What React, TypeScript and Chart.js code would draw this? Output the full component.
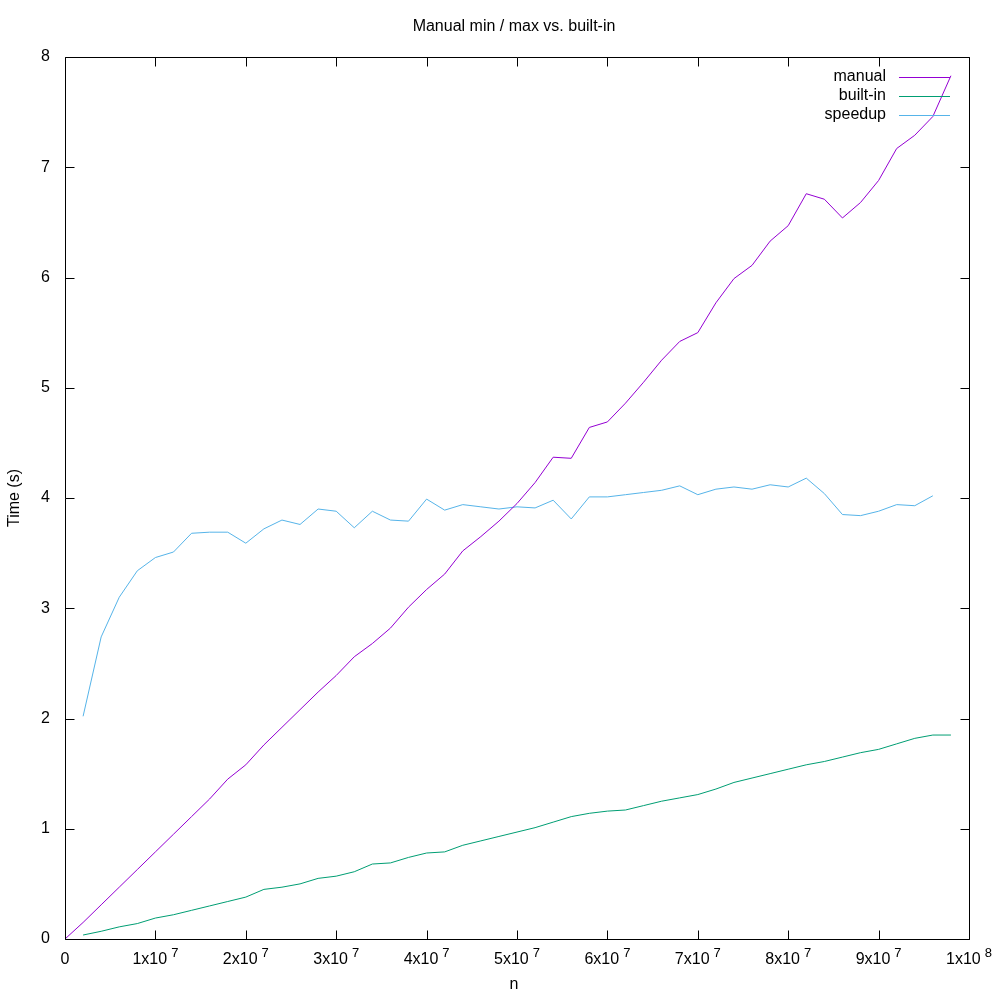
import React, { useEffect, useRef } from "react";
import { Chart, registerables } from "chart.js";

Chart.register(...registerables);

// ---- data ----
const TITLE = "Manual min / max vs. built-in";
const X_LABEL = "n";
const Y_LABEL = "Time (s)";

const N_VALUES = [
  0, 2e6, 4e6, 6e6, 8e6, 10e6, 12e6, 14e6, 16e6, 18e6,
  20e6, 22e6, 24e6, 26e6, 28e6, 30e6, 32e6, 34e6, 36e6, 38e6,
  40e6, 42e6, 44e6, 46e6, 48e6, 50e6, 52e6, 54e6, 56e6, 58e6,
  60e6, 62e6, 64e6, 66e6, 68e6, 70e6, 72e6, 74e6, 76e6, 78e6,
  80e6, 82e6, 84e6, 86e6, 88e6, 90e6, 92e6, 94e6, 96e6, 98e6,
];

// manual: n = 0 .. 98e6
const MANUAL = [
  0, 0.15, 0.31, 0.47, 0.63, 0.79, 0.95, 1.11, 1.27, 1.45,
  1.58, 1.76, 1.92, 2.08, 2.24, 2.39, 2.56, 2.68, 2.82, 3.01,
  3.17, 3.31, 3.52, 3.65, 3.79, 3.95, 4.14, 4.37, 4.36, 4.64,
  4.69, 4.86, 5.05, 5.25, 5.42, 5.5, 5.77, 5.99, 6.11, 6.33,
  6.47, 6.76, 6.71, 6.54, 6.68, 6.88, 7.17, 7.29, 7.46, 7.83,
];

// built-in: n = 2e6 .. 98e6
const BUILTIN = [
  0.036, 0.07, 0.11, 0.14, 0.19, 0.22, 0.26, 0.3, 0.34,
  0.38, 0.45, 0.47, 0.5, 0.55, 0.57, 0.61, 0.68, 0.69, 0.74,
  0.78, 0.79, 0.85, 0.89, 0.93, 0.97, 1.01, 1.06, 1.11, 1.14,
  1.16, 1.17, 1.21, 1.25, 1.28, 1.31, 1.36, 1.42, 1.46, 1.5,
  1.54, 1.58, 1.61, 1.65, 1.69, 1.72, 1.77, 1.82, 1.85, 1.85,
];

// speedup: n = 2e6 .. 96e6
const SPEEDUP = [
  2.02, 2.74, 3.1, 3.34, 3.46, 3.51, 3.68, 3.69, 3.69,
  3.59, 3.72, 3.8, 3.76, 3.9, 3.88, 3.73, 3.88, 3.8, 3.79,
  3.99, 3.89, 3.94, 3.92, 3.9, 3.92, 3.91, 3.98, 3.81, 4.01,
  4.01, 4.03, 4.05, 4.07, 4.11, 4.03, 4.08, 4.1, 4.08, 4.12,
  4.1, 4.18, 4.04, 3.85, 3.84, 3.88, 3.94, 3.93, 4.02,
];

const SERIES_NAMES = ["manual", "built-in", "speedup"];
const SERIES_COLORS = ["#9400d3", "#009e73", "#56b4e9"];

const X_TICKS = [0, 1e7, 2e7, 3e7, 4e7, 5e7, 6e7, 7e7, 8e7, 9e7, 1e8];
const X_TICK_MANT = ["0", "1", "2", "3", "4", "5", "6", "7", "8", "9", "1"];
const X_TICK_EXP = ["", "7", "7", "7", "7", "7", "7", "7", "7", "7", "8"];
const Y_TICKS = [0, 1, 2, 3, 4, 5, 6, 7, 8];

const FONT = "Liberation Sans, Arial, sans-serif";
const FS = 16;

function pts(ns: number[], ys: number[]) {
  return ys.map((y, i) => ({ x: ns[i], y }));
}

const gnuplotPlugin = {
  id: "gnuplotFrame",
  beforeDraw(chart: any) {
    const ctx = chart.ctx;
    ctx.save();
    ctx.fillStyle = "#ffffff";
    ctx.fillRect(0, 0, chart.width, chart.height);
    ctx.restore();
  },
  afterDatasetsDraw(chart: any) {
    const ctx = chart.ctx;
    const a = chart.chartArea;
    const xs = chart.scales.x;
    const ys = chart.scales.y;
    const L = Math.round(a.left) + 0.5;
    const R = Math.round(a.right) + 0.5;
    const T = Math.round(a.top) + 0.5;
    const B = Math.round(a.bottom) + 0.5;
    const tick = 9;
    ctx.save();
    ctx.strokeStyle = "#000000";
    ctx.lineWidth = 1;
    ctx.beginPath();
    ctx.rect(L, T, R - L, B - T);
    // x ticks (bottom and top, inward)
    X_TICKS.forEach((v) => {
      const px = Math.round(xs.getPixelForValue(v)) + 0.5;
      ctx.moveTo(px, B);
      ctx.lineTo(px, B - tick);
      ctx.moveTo(px, T);
      ctx.lineTo(px, T + tick);
    });
    Y_TICKS.forEach((v) => {
      const py = Math.round(ys.getPixelForValue(v)) + 0.5;
      ctx.moveTo(L, py);
      ctx.lineTo(L + tick, py);
      ctx.moveTo(R, py);
      ctx.lineTo(R - tick, py);
    });
    ctx.stroke();

    // tick labels
    ctx.fillStyle = "#000000";
    ctx.font = `${FS}px ${FONT}`;
    ctx.textBaseline = "middle";
    ctx.textAlign = "right";
    Y_TICKS.forEach((v) => {
      const py = ys.getPixelForValue(v);
      ctx.fillText(String(v), a.left - 15, py);
    });

    const supFont = `13px ${FONT}`;
    X_TICKS.forEach((v, i) => {
      const px = xs.getPixelForValue(v);
      const mant = X_TICK_MANT[i];
      const exp = X_TICK_EXP[i];
      ctx.textAlign = "left";
      ctx.textBaseline = "alphabetic";
      if (!exp) {
        ctx.font = `${FS}px ${FONT}`;
        const w = ctx.measureText(mant).width;
        ctx.fillText(mant, px - w / 2, 964);
        return;
      }
      const base = `${mant}x10`;
      ctx.font = `${FS}px ${FONT}`;
      const wb = ctx.measureText(base).width;
      ctx.font = supFont;
      const we = ctx.measureText(exp).width;
      const gap = 4;
      const total = wb + gap + we;
      const x0 = px - total / 2;
      ctx.font = `${FS}px ${FONT}`;
      ctx.fillText(base, x0, 964);
      ctx.font = supFont;
      ctx.fillText(exp, x0 + wb + gap, 957);
    });

    // title
    ctx.font = `${FS}px ${FONT}`;
    ctx.textAlign = "center";
    ctx.textBaseline = "middle";
    const cx = (a.left + a.right) / 2 - 3;
    ctx.fillText(TITLE, cx, 27);
    // x label
    ctx.fillText(X_LABEL, cx, 985);
    // y label
    ctx.save();
    ctx.translate(15, (a.top + a.bottom) / 2);
    ctx.rotate(-Math.PI / 2);
    ctx.fillText(Y_LABEL, 0, 0);
    ctx.restore();

    // legend
    const rowY = [77, 96, 115];
    SERIES_NAMES.forEach((name, i) => {
      ctx.textAlign = "right";
      ctx.textBaseline = "middle";
      ctx.fillStyle = "#000000";
      ctx.fillText(name, 886, rowY[i]);
      ctx.strokeStyle = SERIES_COLORS[i];
      ctx.beginPath();
      ctx.moveTo(899, rowY[i] + 0.5);
      ctx.lineTo(950, rowY[i] + 0.5);
      ctx.stroke();
    });
    ctx.restore();
  },
};

export default function App() {
  const ref = useRef<HTMLCanvasElement | null>(null);

  useEffect(() => {
    if (!ref.current) return;
    const chart = new Chart(ref.current, {
      type: "line",
      data: {
        datasets: [
          {
            label: SERIES_NAMES[0],
            data: pts(N_VALUES, MANUAL),
            borderColor: SERIES_COLORS[0],
          },
          {
            label: SERIES_NAMES[1],
            data: pts(N_VALUES.slice(1), BUILTIN),
            borderColor: SERIES_COLORS[1],
          },
          {
            label: SERIES_NAMES[2],
            data: pts(N_VALUES.slice(1), SPEEDUP),
            borderColor: SERIES_COLORS[2],
          },
        ].map((d) => ({
          ...d,
          borderWidth: 1,
          pointRadius: 0,
          pointHoverRadius: 0,
          tension: 0,
          fill: false,
        })),
      },
      options: {
        animation: false,
        responsive: false,
        devicePixelRatio: 1,
        events: [],
        layout: { padding: { top: 57, right: 31, bottom: 0, left: 0 } },
        plugins: {
          legend: { display: false },
          title: { display: false },
          tooltip: { enabled: false },
        },
        scales: {
          x: {
            type: "linear",
            min: 0,
            max: 1e8,
            grid: { display: false },
            border: { display: false },
            ticks: { display: false, stepSize: 1e7 },
            afterFit: (s: any) => {
              s.height = 61;
            },
          },
          y: {
            type: "linear",
            min: 0,
            max: 8,
            grid: { display: false },
            border: { display: false },
            ticks: { display: false, stepSize: 1 },
            afterFit: (s: any) => {
              s.width = 65;
            },
          },
        },
      },
      plugins: [gnuplotPlugin],
    });
    return () => chart.destroy();
  }, []);

  return (
    <div style={{ position: "absolute", left: 0, top: 0, width: 1000, height: 1000 }}>
      <canvas ref={ref} width={1000} height={1000} style={{ display: "block", width: 1000, height: 1000 }} />
    </div>
  );
}
